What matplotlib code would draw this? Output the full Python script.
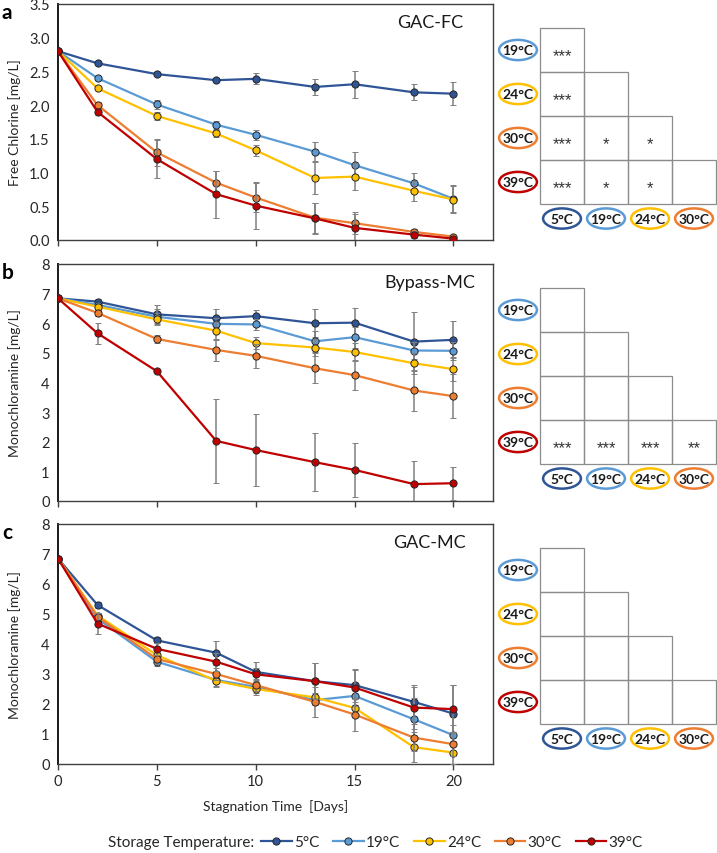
import numpy as np
import matplotlib
matplotlib.use("Agg")
import matplotlib.pyplot as plt
from matplotlib.patches import Ellipse, Rectangle
from matplotlib.lines import Line2D

plt.rcParams['font.family'] = ['Lato', 'DejaVu Sans']

# ---- data ----
days = [0, 2, 5, 8, 10, 13, 15, 18, 20]
temps = ['5°C', '19°C', '24°C', '30°C', '39°C']
colors = ['#2F5597', '#5B9BD5', '#FFC000', '#ED7D31', '#C00000']

# panel a: GAC-FC, free chlorine
fc_mean = [
    [2.80, 2.62, 2.46, 2.37, 2.39, 2.27, 2.31, 2.19, 2.17],
    [2.80, 2.40, 2.01, 1.71, 1.56, 1.31, 1.11, 0.84, 0.61],
    [2.80, 2.25, 1.84, 1.58, 1.33, 0.92, 0.94, 0.73, 0.60],
    [2.80, 2.00, 1.30, 0.85, 0.63, 0.33, 0.25, 0.12, 0.05],
    [2.80, 1.90, 1.20, 0.68, 0.51, 0.32, 0.18, 0.08, 0.02],
]
fc_err = [
    [0, 0.03, 0.02, 0.03, 0.08, 0.12, 0.20, 0.12, 0.17],
    [0, 0.02, 0.06, 0.06, 0.07, 0.14, 0.19, 0.15, 0.20],
    [0, 0.03, 0.06, 0.05, 0.08, 0.24, 0.20, 0.15, 0.20],
    [0, 0.05, 0.20, 0.18, 0.22, 0.22, 0.16, 0.05, 0.03],
    [0, 0.05, 0.28, 0.35, 0.35, 0.23, 0.20, 0.05, 0.03],
]
fc_sig = [['***'], ['***', ''], ['***', '*', '*'], ['***', '*', '*', '']]

# panel b: Bypass-MC, monochloramine
bmc_mean = [
    [6.84, 6.73, 6.30, 6.17, 6.24, 6.00, 6.02, 5.38, 5.44],
    [6.84, 6.62, 6.22, 5.98, 5.96, 5.39, 5.53, 5.08, 5.07],
    [6.84, 6.56, 6.13, 5.75, 5.33, 5.18, 5.03, 4.65, 4.45],
    [6.84, 6.35, 5.47, 5.10, 4.90, 4.48, 4.25, 3.73, 3.54],
    [6.84, 5.66, 4.38, 2.03, 1.72, 1.31, 1.05, 0.57, 0.60],
]
bmc_err = [
    [0, 0.08, 0.30, 0.30, 0.20, 0.48, 0.50, 1.00, 0.62],
    [0, 0.10, 0.25, 0.20, 0.20, 0.35, 0.35, 0.30, 0.30],
    [0, 0.10, 0.20, 0.30, 0.20, 0.30, 0.30, 0.35, 0.40],
    [0, 0.10, 0.15, 0.37, 0.40, 0.50, 0.50, 0.68, 0.75],
    [0, 0.35, 0.05, 1.42, 1.22, 0.98, 0.90, 0.78, 0.55],
]
bmc_sig = [[''], ['', ''], ['', '', ''], ['***', '***', '***', '**']]

# panel c: GAC-MC, monochloramine
gmc_mean = [
    [6.85, 5.30, 4.12, 3.71, 3.07, 2.76, 2.63, 2.07, 1.68],
    [6.85, 4.85, 3.41, 2.80, 2.57, 2.13, 2.27, 1.49, 0.96],
    [6.85, 4.95, 3.63, 2.77, 2.50, 2.22, 1.87, 0.56, 0.38],
    [6.85, 4.91, 3.50, 3.00, 2.63, 2.07, 1.65, 0.88, 0.66],
    [6.85, 4.68, 3.84, 3.41, 2.99, 2.76, 2.55, 1.88, 1.83],
]
gmc_err = [
    [0, 0.10, 0.10, 0.40, 0.33, 0.60, 0.55, 0.55, 0.95],
    [0, 0.10, 0.15, 0.20, 0.20, 0.15, 0.30, 0.70, 0.35],
    [0, 0.10, 0.20, 0.20, 0.20, 0.15, 0.30, 0.50, 0.38],
    [0, 0.10, 0.15, 0.20, 0.20, 0.50, 0.55, 0.45, 0.40],
    [0, 0.35, 0.20, 0.30, 0.20, 0.60, 0.60, 0.70, 0.80],
]
gmc_sig = [[''], ['', ''], ['', '', ''], ['', '', '', '']]

row_labels = ['19°C', '24°C', '30°C', '39°C']
col_labels = ['5°C', '19°C', '24°C', '30°C']

panels = [
    ('a', 'GAC-FC', 'Free Chlorine [mg/L]', fc_mean, fc_err, fc_sig, 3.5, np.arange(0, 3.51, 0.5), '{:.1f}'),
    ('b', 'Bypass-MC', 'Monochloramine [mg/L]', bmc_mean, bmc_err, bmc_sig, 8, np.arange(0, 9, 1), '{:.0f}'),
    ('c', 'GAC-MC', 'Monochloramine [mg/L]', gmc_mean, gmc_err, gmc_sig, 8, np.arange(0, 9, 1), '{:.0f}'),
]

W, H = 717, 854
fig = plt.figure(figsize=(W / 100, H / 100), dpi=100)

# pixel layout of each panel (top, bottom)
panel_px = [(5, 241), (265, 502), (525, 765)]
ax_left, ax_right = 58, 493
cell = 44.0
tab_left, tab_right = 492, 717
tab_x0 = 540
tab_top_off = 24

spine_col = '#404040'

for (letter, name, ylabel, means, errs, sig, ymax, yticks, fmt), (top, bot) in zip(panels, panel_px):
    ax = fig.add_axes([ax_left / W, 1 - bot / H, (ax_right - ax_left) / W, (bot - top) / H])
    for k in range(len(temps)):
        ax.errorbar(days, means[k], yerr=errs[k], color=colors[k], lw=1.6,
                    marker='o', ms=5.2, mfc=colors[k], mec='#262626', mew=0.7,
                    ecolor='#808080', elinewidth=1.1, capsize=2.5, capthick=1.1,
                    zorder=3 + k)
    ax.set_xlim(0, 22)
    ax.set_ylim(0, ymax)
    ax.set_xticks([0, 5, 10, 15, 20])
    ax.set_yticks(yticks)
    ax.set_yticklabels([fmt.format(v) for v in yticks])
    ax.tick_params(axis='y', length=0, labelsize=10.5, pad=6, colors='#262626')
    ax.tick_params(axis='x', length=4, direction='out', width=1, color=spine_col,
                   labelsize=10.5, colors='#262626')
    if letter != 'c':
        ax.set_xticklabels([])
    else:
        ax.set_xlabel('Stagnation Time  [Days]', fontsize=10, color='#262626', labelpad=8)
    for s in ax.spines.values():
        s.set_color(spine_col)
        s.set_linewidth(1.0)
    ax.spines['left'].set_linewidth(1.4)
    ax.spines['left'].set_color('#1a1a1a')
    ax.set_ylabel(ylabel, fontsize=10, color='#262626', labelpad=4)
    ax.yaxis.set_label_coords(-0.085, 0.5)
    ax.text(18.8, ymax * 0.925, name, fontsize=13, ha='center', va='center', color='#1a1a1a')
    fig.text(2 / W, 1 - (top + 8) / H, letter, fontsize=15, fontweight='bold', ha='left', va='center')

    # significance table
    tab_top = top + tab_top_off
    tax = fig.add_axes([tab_left / W, 1 - bot / H, (tab_right - tab_left) / W, (bot - top) / H])
    tax.set_xlim((tab_left - tab_x0) / cell, (tab_right - tab_x0) / cell)
    tax.set_ylim((bot - tab_top) / cell, (top - tab_top) / cell)
    tax.axis('off')
    for i, row in enumerate(sig):
        for j, txt in enumerate(row):
            tax.add_patch(Rectangle((j, i), 1, 1, fill=False, ec='#8c8c8c', lw=0.9))
            if txt:
                tax.text(j + 0.5, i + 0.62, txt, ha='center', va='center', fontsize=12,
                         family='Liberation Sans', color='#333333')
    for i, lab in enumerate(row_labels):
        tax.add_patch(Ellipse((-0.5, i + 0.5), 0.86, 0.46, fill=False, ec=colors[i + 1], lw=1.8))
        tax.text(-0.5, i + 0.5, lab, ha='center', va='center', fontsize=10, fontweight='bold', color='#1a1a1a')
    for j, lab in enumerate(col_labels):
        tax.add_patch(Ellipse((j + 0.5, 4.33), 0.86, 0.46, fill=False, ec=colors[j], lw=1.8))
        tax.text(j + 0.5, 4.33, lab, ha='center', va='center', fontsize=10, fontweight='bold', color='#1a1a1a')

# legend
handles = [Line2D([0], [0], color=c, lw=1.6, marker='o', ms=5.2, mfc=c, mec='#262626', mew=0.7)
           for c in colors]
fig.legend(handles, temps, loc='center', bbox_to_anchor=(452 / W, 1 - 843 / H), ncol=5,
           frameon=False, fontsize=11, handlelength=2.0, handletextpad=0.15, columnspacing=0.9,
           labelcolor='#262626')
fig.text(254 / W, 1 - 843 / H, 'Storage Temperature:', ha='right', va='center', fontsize=11, color='#262626')

fig.savefig('out.png', dpi=100)
